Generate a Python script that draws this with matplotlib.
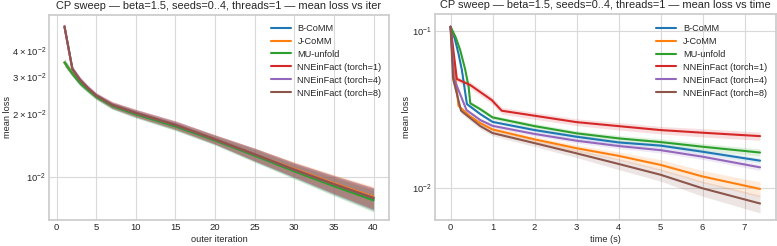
import matplotlib
matplotlib.use("Agg")
import matplotlib.pyplot as plt
import seaborn as sns
import numpy as np

sns.set_theme(style="whitegrid")
plt.rcParams['font.family'] = ['Liberation Sans', 'DejaVu Sans']

methods = ["B-CoMM", "J-CoMM", "MU-unfold",
           "NNEinFact (torch=1)", "NNEinFact (torch=4)", "NNEinFact (torch=8)"]
colors = ["#1f77b4", "#ff7f0e", "#2ca02c", "#d62728", "#9467bd", "#8c564b"]

# ---- left panel: mean loss vs outer iteration ----
iters = [1, 2, 3, 4, 5, 7, 10, 15, 20, 25, 30, 35, 40]
iter_bcomm = [0.0352, 0.0311, 0.0280, 0.0260, 0.0242, 0.0219, 0.0200, 0.0175, 0.0150, 0.0127, 0.0107, 0.0091, 0.0078]
iter_jcomm = [0.0352, 0.0312, 0.0281, 0.0261, 0.0243, 0.0220, 0.0201, 0.0176, 0.0151, 0.0128, 0.0109, 0.0093, 0.0080]
iter_mu    = [0.0353, 0.0312, 0.0280, 0.0259, 0.0241, 0.0218, 0.0199, 0.0174, 0.0149, 0.0126, 0.0106, 0.0090, 0.0077]
iter_nn1   = [0.0524, 0.0328, 0.0290, 0.0265, 0.0245, 0.0221, 0.0202, 0.0177, 0.0151, 0.0128, 0.0108, 0.0092, 0.0079]
iter_nn4   = [0.0524, 0.0328, 0.0290, 0.0265, 0.0245, 0.0221, 0.0202, 0.0177, 0.0151, 0.0128, 0.0108, 0.0092, 0.0079]
iter_nn8   = [0.0524, 0.0328, 0.0290, 0.0265, 0.0245, 0.0221, 0.0202, 0.0177, 0.0151, 0.0128, 0.0108, 0.0092, 0.0079]
# relative spread (std / mean) across seeds
iter_spread = [0.04, 0.03, 0.03, 0.03, 0.03, 0.035, 0.04, 0.045, 0.05, 0.07, 0.08, 0.10, 0.12]

# ---- right panel: mean loss vs wall time ----
t_bcomm = [0, 0.10, 0.19, 0.27, 0.39, 0.71, 1.0, 2.0, 3.0, 4.0, 5.0, 6.0, 7.37]
y_bcomm = [0.107, 0.090, 0.072, 0.0567, 0.0344, 0.0297, 0.0265, 0.0235, 0.0213, 0.0196, 0.0187, 0.0171, 0.0150]
s_bcomm = [0.01, 0.01, 0.01, 0.01, 0.02, 0.02, 0.02, 0.025, 0.03, 0.03, 0.03, 0.035, 0.04]

t_jcomm = [0, 0.10, 0.19, 0.45, 0.71, 1.0, 2.0, 3.0, 4.0, 5.0, 6.0, 7.37]
y_jcomm = [0.107, 0.056, 0.0335, 0.0290, 0.0260, 0.0237, 0.0205, 0.0180, 0.0161, 0.0141, 0.0119, 0.0099]
s_jcomm = [0.01, 0.02, 0.02, 0.02, 0.025, 0.03, 0.04, 0.05, 0.06, 0.08, 0.09, 0.11]

t_mu = [0, 0.12, 0.23, 0.35, 0.43, 0.47, 0.71, 1.0, 2.0, 3.0, 4.0, 5.0, 6.0, 7.37]
y_mu = [0.107, 0.092, 0.076, 0.057, 0.0444, 0.0348, 0.0319, 0.0283, 0.0249, 0.0224, 0.0208, 0.0197, 0.0184, 0.0169]
s_mu = [0.01, 0.01, 0.01, 0.01, 0.02, 0.03, 0.03, 0.03, 0.04, 0.04, 0.045, 0.05, 0.05, 0.055]

t_nn1 = [0, 0.15, 0.47, 0.98, 1.22, 2.0, 3.0, 4.0, 5.0, 6.0, 7.37]
y_nn1 = [0.107, 0.0497, 0.0455, 0.0365, 0.0312, 0.0290, 0.0264, 0.0249, 0.0235, 0.0226, 0.0215]
s_nn1 = [0.01, 0.04, 0.05, 0.05, 0.05, 0.05, 0.05, 0.055, 0.055, 0.06, 0.06]

t_nn4 = [0, 0.08, 0.38, 0.71, 1.0, 2.0, 3.0, 4.0, 5.0, 6.0, 7.37]
y_nn4 = [0.107, 0.050, 0.0315, 0.0272, 0.0250, 0.0222, 0.0201, 0.0186, 0.0175, 0.0159, 0.0136]
s_nn4 = [0.01, 0.03, 0.03, 0.03, 0.03, 0.03, 0.035, 0.035, 0.04, 0.04, 0.045]

t_nn8 = [0, 0.06, 0.25, 0.71, 1.0, 2.0, 3.0, 4.0, 5.0, 6.0, 7.37]
y_nn8 = [0.107, 0.050, 0.0312, 0.0249, 0.0225, 0.0194, 0.0167, 0.0143, 0.0122, 0.0100, 0.0080]
s_nn8 = [0.01, 0.03, 0.04, 0.04, 0.04, 0.05, 0.06, 0.08, 0.09, 0.11, 0.13]

iter_series = [iter_bcomm, iter_jcomm, iter_mu, iter_nn1, iter_nn4, iter_nn8]
time_series = [(t_bcomm, y_bcomm, s_bcomm), (t_jcomm, y_jcomm, s_jcomm), (t_mu, y_mu, s_mu),
               (t_nn1, y_nn1, s_nn1), (t_nn4, y_nn4, s_nn4), (t_nn8, y_nn8, s_nn8)]

W, H = 777, 246
fig = plt.figure(figsize=(W / 100, H / 100), dpi=100)
# axes boxes from pixel extents (left, top, right, bottom)
def box(l, t, r, b):
    return [l / W, 1 - b / H, (r - l) / W, (b - t) / H]
ax1 = fig.add_axes(box(49, 15, 389, 220))
ax2 = fig.add_axes(box(435, 14, 776, 220))

title_fs = 7.9
label_fs = 6.6
tick_fs = 6.8
legend_fs = 6.6
lw = 1.5

for name, col, vals in zip(methods, colors, iter_series):
    x = np.array(iters)
    y = np.array(vals)
    s = np.array(iter_spread)
    ax1.plot(x, y, color=col, lw=lw, label=name)
    ax1.fill_between(x, y * (1 - s), y * (1 + s), color=col, alpha=0.22, lw=0)

for name, col, (t, v, sp) in zip(methods, colors, time_series):
    t = np.array(t); v = np.array(v); sp = np.array(sp)
    ax2.plot(t, v, color=col, lw=lw, label=name)
    ax2.fill_between(t, v * (1 - sp), v * (1 + sp), color=col, alpha=0.15, lw=0)

ax1.set_yscale("log")
ax1.set_xlim(-0.95, 41.95)
ax1.set_ylim(0.0062, 0.0595)
ax1.set_xlabel("outer iteration", fontsize=label_fs, labelpad=2)
ax1.set_ylabel("mean loss", fontsize=label_fs)
ax1.yaxis.set_label_coords((12 - 49) / 340, 0.5)
ax1.set_title("CP sweep — beta=1.5, seeds=0..4, threads=1 — mean loss vs iter", fontsize=title_fs, pad=4)

ax2.set_yscale("log")
ax2.set_xlim(-0.37, 7.75)
ax2.set_ylim(0.00628, 0.129)
ax2.set_xlabel("time (s)", fontsize=label_fs, labelpad=2)
ax2.set_ylabel("mean loss", fontsize=label_fs)
ax2.yaxis.set_label_coords((411 - 435) / 341, 0.5)
ax2.set_title("CP sweep — beta=1.5, seeds=0..4, threads=1 — mean loss vs time", fontsize=title_fs, pad=4)

for ax in (ax1, ax2):
    ax.tick_params(axis="both", which="both", labelsize=tick_fs, pad=2, length=0)
    ax.grid(True, which="major", color="0.85", lw=0.8)
    ax.grid(False, which="minor")

ax1.legend(loc="upper right", bbox_to_anchor=(0.989, 0.975), fontsize=legend_fs, frameon=False,
           handlelength=2.2, handletextpad=0.7, labelspacing=0.43, borderaxespad=0.0)
ax2.legend(loc="upper right", bbox_to_anchor=(0.984, 0.97), fontsize=legend_fs, frameon=False,
           handlelength=2.2, handletextpad=0.7, labelspacing=0.43, borderaxespad=0.0)

fig.savefig("out.png", dpi=100)
